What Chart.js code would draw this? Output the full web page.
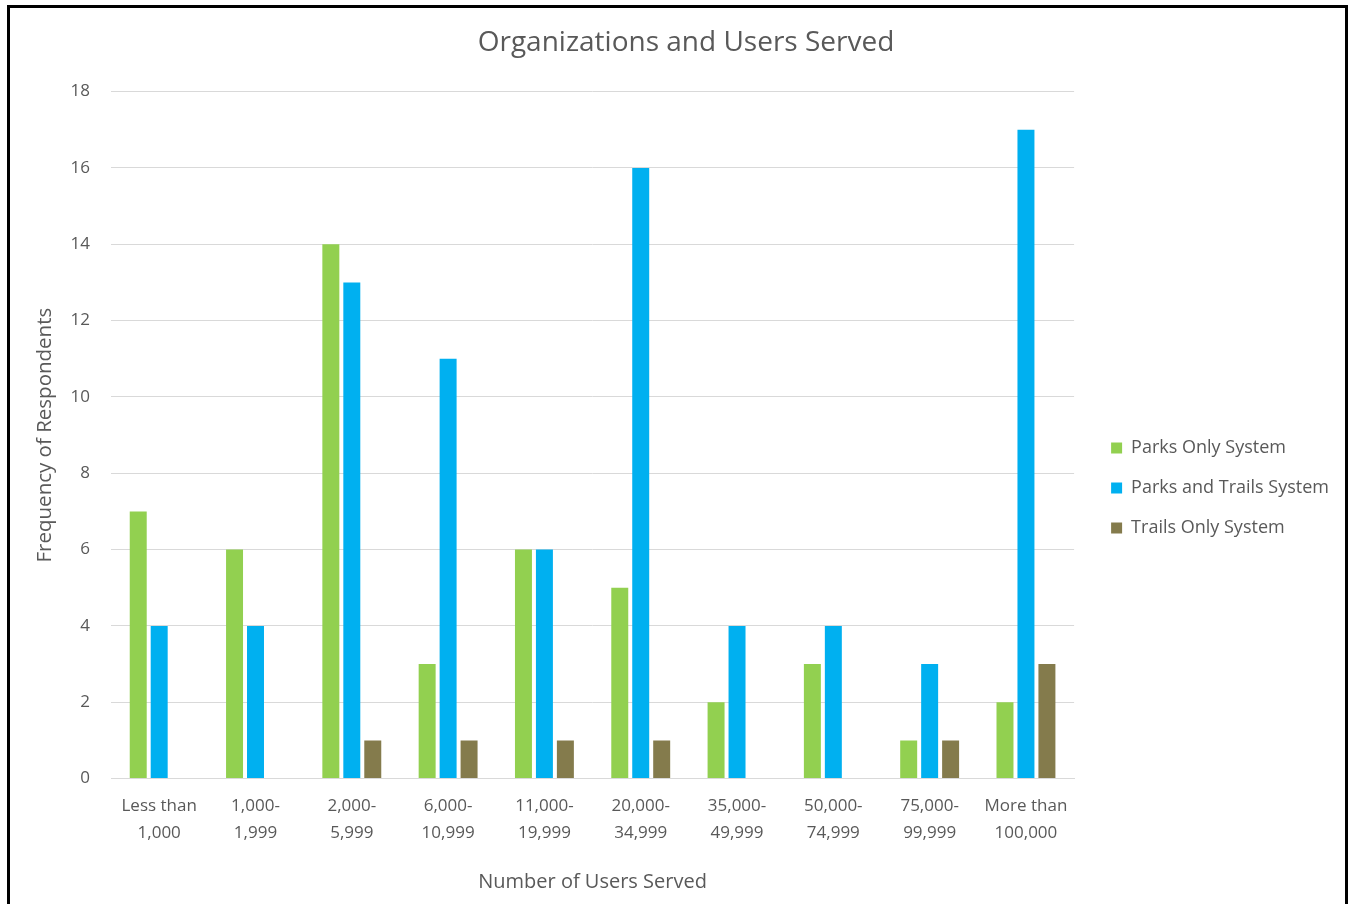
<!DOCTYPE html>
<html lang="en">
<head>
    <meta charset="UTF-8" />
    <title>Organizations and Users Served</title>
    <script src="https://cdn.jsdelivr.net/npm/chart.js"></script>
    <style>
        body {
            margin: 0;
            background: #fff;
            font-family: "Open Sans", sans-serif;
        }

        .frame {
            position: absolute;
            left: 7px;
            top: 5px;
            width: 1341px;
            height: 920px;
            border: 3px solid #000;
            box-sizing: border-box;
        }

        .wrap {
            position: absolute;
            left: 10px;
            top: 8px;
            width: 1338px;
            height: 896px;
        }
    </style>
</head>
<body>

    <div class="frame"></div>
    <div class="wrap"><canvas id="chart"></canvas></div>

    <script>
        const categories = [
            ['Less than', '1,000'], ['1,000-', '1,999'], ['2,000-', '5,999'], ['6,000-', '10,999'],
            ['11,000-', '19,999'], ['20,000-', '34,999'], ['35,000-', '49,999'], ['50,000-', '74,999'],
            ['75,000-', '99,999'], ['More than', '100,000']
        ];
        const parksOnly = [7, 6, 14, 3, 6, 5, 2, 3, 1, 2];
        const parksAndTrails = [4, 4, 13, 11, 6, 16, 4, 4, 3, 17];
        const trailsOnly = [0, 0, 1, 1, 1, 1, 0, 0, 1, 3];

        const grey = '#595959';
        Chart.defaults.font.family = '"Open Sans", sans-serif';
        Chart.defaults.color = grey;

        new Chart(document.getElementById('chart'), {
            type: 'bar',
            data: {
                labels: categories,
                datasets: [
                    { label: 'Parks Only System', data: parksOnly, backgroundColor: '#92d050' },
                    { label: 'Parks and Trails System', data: parksAndTrails, backgroundColor: '#00b0f0' },
                    { label: 'Trails Only System', data: trailsOnly, backgroundColor: '#847b4c' }
                ]
            },
            options: {
                responsive: true,
                maintainAspectRatio: false,
                animation: false,
                categoryPercentage: 0.653,
                barPercentage: 0.81,
                layout: { padding: { left: 23, right: 9, top: 4, bottom: 6 } },
                plugins: {
                    title: {
                        display: true,
                        text: 'Organizations and Users Served',
                        font: { size: 28, weight: 'normal' },
                        color: grey,
                        padding: { top: 14, bottom: 32 }
                    },
                    legend: {
                        position: 'right',
                        align: 'center',
                        maxWidth: 300,
                        // empty title only pushes the items down a bit
                        title: { display: true, text: ' ', font: { size: 10 }, padding: { top: 0, bottom: 54 } },
                        labels: {
                            boxWidth: 11,
                            boxHeight: 11,
                            padding: 22,
                            font: { size: 18 },
                            color: grey
                        }
                    },
                    tooltip: { enabled: false }
                },
                scales: {
                    x: {
                        grid: { display: false },
                        border: { color: '#d9d9d9' },
                        ticks: { font: { size: 17, lineHeight: 1.6 }, color: grey, maxRotation: 0, padding: 6 },
                        title: {
                            display: true,
                            text: 'Number of Users Served',
                            font: { size: 20 },
                            color: grey,
                            padding: { top: 17 }
                        }
                    },
                    y: {
                        min: 0,
                        max: 18,
                        ticks: { stepSize: 2, font: { size: 17 }, color: grey, padding: 21 },
                        grid: { color: '#d9d9d9', drawTicks: false },
                        border: { display: false },
                        title: {
                            display: true,
                            text: 'Frequency of Respondents',
                            font: { size: 20.5 },
                            color: grey,
                            padding: { top: 0, bottom: -8 }
                        }
                    },
                    // blank strip between the plot and the legend
                    gap: {
                        axis: 'y',
                        position: 'right',
                        display: true,
                        ticks: { display: false },
                        grid: { display: false },
                        border: { display: false },
                        afterFit: s => { s.width = 15; }
                    }
                }
            }
        });
    </script>

</body>
</html>
